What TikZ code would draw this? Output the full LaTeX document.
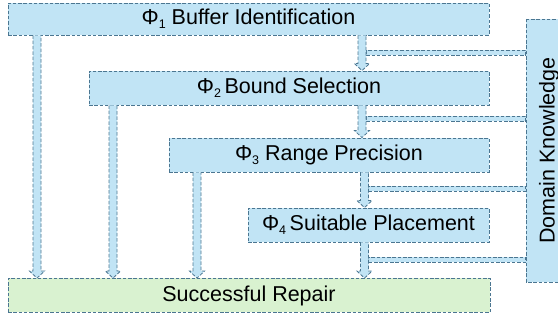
\documentclass[tikz,border=0pt]{standalone}
\usepackage{fontspec}
\setmainfont{Liberation Sans}
\usetikzlibrary{calc}
\definecolor{bluef}{RGB}{193,228,245}
\definecolor{greenf}{RGB}{217,242,208}
\definecolor{bordc}{RGB}{75,118,145}
\newcommand\phisub[1]{\raisebox{-0.2em}{\fontsize{12.5}{12}\selectfont #1}}
\newcommand\varrow[3]{%
  \path[arrowsty] let \p1=(#1 |- #2), \p2=(#1 |- #3) in
    (\x1-4pt,\y1) -- (\x1-4pt,\y2+7pt) -- (\x1-7.5pt,\y2+7pt) -- (\x1,\y2)
    -- (\x1+7.5pt,\y2+7pt) -- (\x1+4pt,\y2+7pt) -- (\x1+4pt,\y1);}
\newcommand\hband[2]{%
  \path[bandsty] ($(#1)+(0,2.5pt)$) rectangle ($(#2 |- #1)+(0,-2.5pt)$);}
\begin{document}
\begin{tikzpicture}[x=1pt,y=-1pt,
  dashline/.style={draw=bordc, line width=0.8pt, dash pattern=on 3.5pt off 1.8pt},
  box/.style={dashline, fill=bluef, inner sep=0pt, font=\fontsize{21.5}{24}\selectfont},
  greenbox/.style={box, fill=greenf},
  arrowsty/.style={dashline, fill=bluef},
  bandsty/.style={dashline, fill=bluef}]
\useasboundingbox (0,0) rectangle (558,320);
\node[box, minimum width=481pt, minimum height=32pt] (b1) at (248.5,19) {Φ\phisub{1} Buffer Identification};
\node[box, minimum width=400pt, minimum height=34pt] (b2) at (289,88) {Φ\phisub{2}\,Bound Selection};
\node[box, minimum width=320pt, minimum height=34pt] (b3) at (329,155) {Φ\phisub{3} Range Precision};
\node[box, minimum width=241pt, minimum height=34pt] (b4) at (368.5,225) {Φ\phisub{4}\,Suitable Placement};
\node[greenbox, minimum width=482pt, minimum height=34pt] (rep) at (249,295.5) {Successful Repair};
\node[box, rotate=90, minimum width=263pt, minimum height=46pt] (dk) at (549,150.5) {Domain Knowledge};
\coordinate (c1) at (37,0);
\coordinate (c2) at (113,0);
\coordinate (c3) at (197,0);
\coordinate (r1) at (362,0);
\coordinate (r2) at (364.5,0);
\coordinate (k1) at (366,53);
\coordinate (k2) at (366,119);
\coordinate (k3) at (368.5,188.5);
\coordinate (k4) at (368.5,259.5);
\hband{k1}{dk.north}
\hband{k2}{dk.north}
\hband{k3}{dk.north}
\hband{k4}{dk.north}
\varrow{c1}{b1.south}{rep.north}
\varrow{c2}{b2.south}{rep.north}
\varrow{c3}{b3.south}{rep.north}
\varrow{r1}{b1.south}{b2.north}
\varrow{r1}{b2.south}{b3.north}
\varrow{r2}{b3.south}{b4.north}
\varrow{r2}{b4.south}{rep.north}
\end{tikzpicture}
\end{document}
